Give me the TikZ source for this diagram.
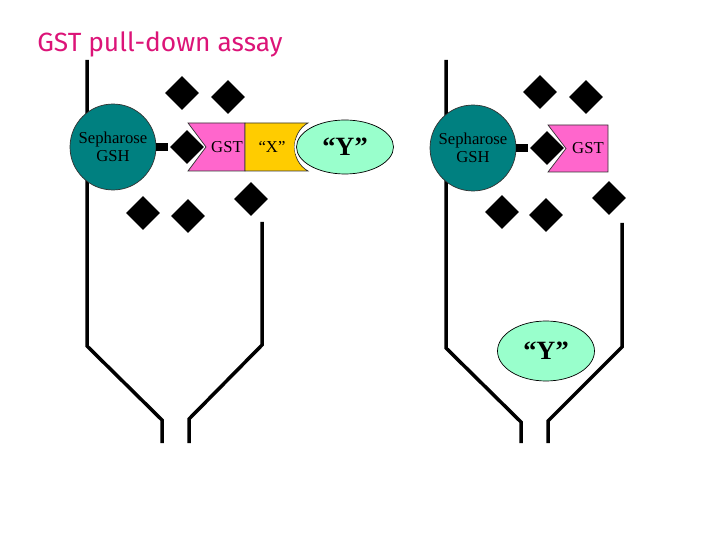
\documentclass[tikz,border=0pt]{standalone}
\usepackage{fontspec}
\setmainfont{Liberation Serif}
\newfontfamily\titlefont{Fira Sans}
\usetikzlibrary{shapes.geometric}
\definecolor{resin}{HTML}{008080}
\definecolor{gsttag}{HTML}{FF66CC}
\definecolor{bait}{HTML}{FFCC00}
\definecolor{preycol}{HTML}{99FFCC}
\definecolor{heading}{HTML}{DC1478}

\begin{document}
\begin{tikzpicture}[x=0.02cm, y=-0.02cm,
  wall/.style={line width=0.07cm, line join=miter},
  bar/.style={line width=0.16cm},
  bead/.style={circle, draw=black!80, fill=resin, minimum size=1.72cm, inner sep=0pt,
               align=center, font=\fontsize{9.5}{10.5}\selectfont},
  gsh/.style={diamond, fill=black, draw=white, line width=0.6pt, minimum width=0.72cm,
              minimum height=0.72cm, inner sep=0pt},
  prey/.style={ellipse, draw, fill=preycol, minimum width=1.94cm, minimum height=1.12cm,
               preaction={draw=white, line width=2.5pt}, font=\fontsize{15}{16}\selectfont\bfseries},
  tag/.style={draw=black!80, fill=gsttag},
  tagtext/.style={font=\fontsize{9.5}{10.5}\selectfont}
]
  \useasboundingbox (0,0) rectangle (720,540);
  \node[font=\titlefont\fontsize{15}{17}\selectfont, text=heading] (title) at (160,44) {GST pull-down assay};

  \draw[wall] (87,60) -- (87,346) -- (162,420) -- (162,443);
  \draw[wall] (262,222) -- (262,345) -- (189,419) -- (189,443);
  \draw[wall] (446,60) -- (446,348) -- (521,422) -- (521,443);
  \draw[wall] (622,223) -- (622,347) -- (548,421) -- (548,443);

  \node[bead] (beadL) at (113,147) {Sepharose\\GSH};
  \node[gsh] (gshL) at (187,147) {};
  \draw[bar] (beadL) -- (gshL);
  \draw[tag] (188,123) -- (245,123) -- (245,171) -- (188,171) -- (206,147) -- cycle;
  \draw[draw=black!80, fill=bait] (245,123) -- (308,123) .. controls (290,133) and (290,161) .. (308,171) -- (245,171) -- cycle;
  \node[tagtext] (gstL) at (227,147) {GST};
  \node[tagtext] (xL) at (272,147) {“X”};
  \node[prey, minimum height=1.08cm] (yL) at (345,147) {“Y”};

  \node[bead] (beadR) at (473,148) {Sepharose\\GSH};
  \node[gsh] (gshR) at (547,148) {};
  \draw[bar] (beadR) -- (gshR);
  \draw[tag] (548,125) -- (608,125) -- (608,172) -- (548,172) -- (566,148.5) -- cycle;
  \node[tagtext] (gstR) at (588,148) {GST};
  \node[prey, minimum height=1.2cm] (yR) at (546,351) {“Y”};

  \foreach \p [count=\i] in {(182,93),(228,97),(143,213),(188,216),(251,199)}
    \node[gsh] (freeL\i) at \p {};
  \foreach \p [count=\i] in {(540,92),(586,97),(502,212),(546,215),(609,198)}
    \node[gsh] (freeR\i) at \p {};
\end{tikzpicture}
\end{document}
